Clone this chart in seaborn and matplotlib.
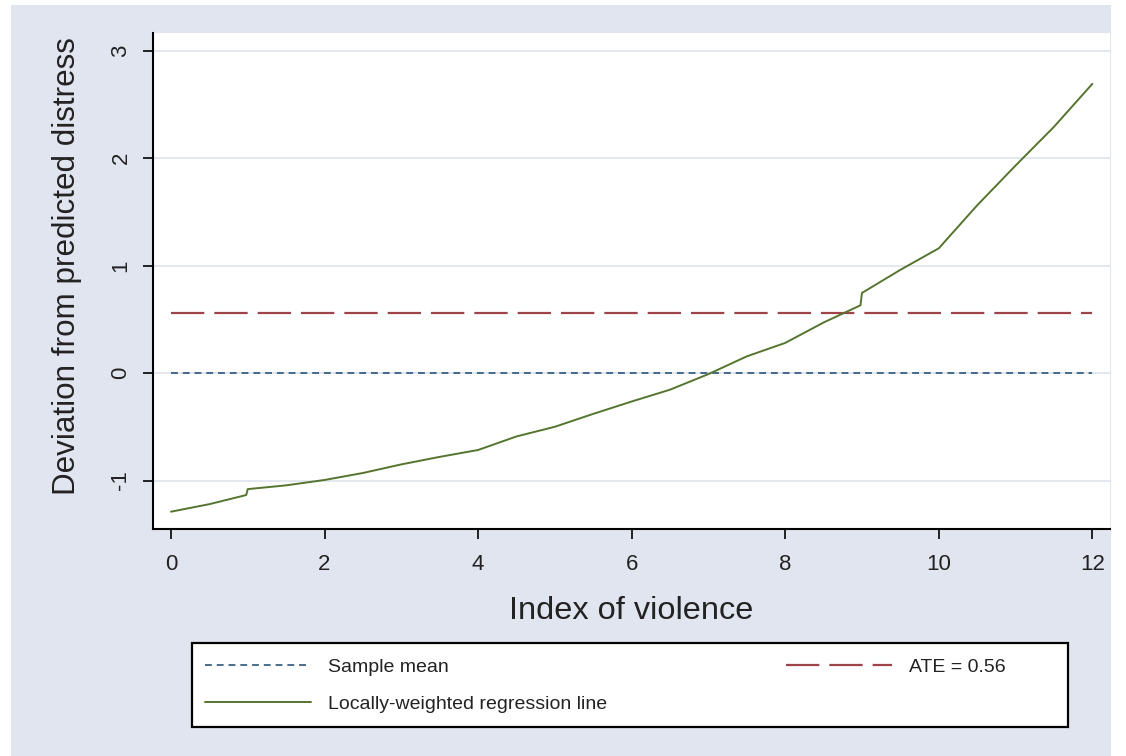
import matplotlib
matplotlib.use("Agg")
import matplotlib.pyplot as plt
from matplotlib.patches import Rectangle
import seaborn as sns
import pandas as pd

# Lowess fit of deviation from predicted distress against the violence index
violence_index = [0.0, 0.5, 0.98, 1.0, 1.5, 2.0, 2.5, 3.0, 3.5, 4.0, 4.5, 5.0, 5.5,
                  6.0, 6.5, 7.0, 7.5, 8.0, 8.5, 8.98, 9.0, 9.5, 10.0, 10.5, 11.0,
                  11.5, 12.0]
lowess_dev = [-1.29, -1.22, -1.135, -1.08, -1.045, -0.995, -0.93, -0.85, -0.78,
              -0.716, -0.59, -0.50, -0.38, -0.265, -0.155, -0.01, 0.155, 0.28,
              0.47, 0.63, 0.745, 0.96, 1.16, 1.56, 1.93, 2.29, 2.69]

# Reference lines
ref_x = [0, 12]
sample_mean = [0.0, 0.0]
ate = [0.56, 0.56]

x_ticks = [0, 2, 4, 6, 8, 10, 12]
y_ticks = [-1, 0, 1, 2, 3]

W, H = 1126, 756
sns.set_theme(style="white")
plt.rcParams["font.family"] = ["Liberation Sans", "DejaVu Sans"]

fig = plt.figure(figsize=(W / 100, H / 100), dpi=100, facecolor="white")
bg = "#E0E5EF"
fig.add_artist(Rectangle((11 / W, 0), (1111 - 11) / W, (H - 5) / H,
                         transform=fig.transFigure, facecolor=bg,
                         edgecolor="none", zorder=-5))

ax = fig.add_axes([153 / W, 1 - 529 / H, (1110 - 153) / W, (529 - 33) / H])
ax.set_facecolor("white")

navy = "#1A476F"
maroon = "#9E4349"
green = "#55752F"

curve = pd.DataFrame({"x": violence_index, "y": lowess_dev})
ref = pd.DataFrame({"x": ref_x, "mean": sample_mean, "ate": ate})

sns.lineplot(data=ref, x="x", y="mean", ax=ax, color=navy, lw=1.1,
             label="Sample mean", zorder=3)
sns.lineplot(data=curve, x="x", y="y", ax=ax, color=green, lw=1.4,
             estimator=None, sort=False, label="Locally-weighted regression line",
             zorder=4)
sns.lineplot(data=ref, x="x", y="ate", ax=ax, color=maroon, lw=1.6,
             label="ATE = 0.56", zorder=3)

lines = ax.get_lines()
lines[0].set_dashes([4.5, 3.2])
lines[2].set_dashes([15, 4.5])

ax.set_xlim(-0.234, 12.23)
ax.set_ylim(-1.451, 3.163)
ax.set_xticks(x_ticks)
ax.set_yticks(y_ticks)
ax.set_xticklabels([str(v) for v in x_ticks])
ax.set_yticklabels([str(v) for v in y_ticks])

ax.yaxis.grid(True, color="#E3E7F0", lw=1.4, zorder=0)
ax.xaxis.grid(False)
for side in ("top", "right"):
    ax.spines[side].set_visible(False)
for side in ("left", "bottom"):
    ax.spines[side].set_color("black")
    ax.spines[side].set_linewidth(1.5)

ax.tick_params(axis="both", which="major", direction="out", length=7.5,
               width=1.2, color="black", labelsize=16, labelcolor="#222222",
               bottom=True, left=True)
ax.tick_params(axis="x", pad=10.5)
ax.tick_params(axis="y", pad=8, labelrotation=90)
for lbl in ax.get_yticklabels():
    lbl.set_verticalalignment("center")

ax.set_xlabel("Index of violence", fontsize=23.4, color="#222222", labelpad=15)
ax.set_ylabel("Deviation from predicted distress", fontsize=22.6,
              color="#222222")
ax.yaxis.set_label_coords(-0.0742, 0.530)

ax.get_legend().remove()

# Legend frame below the plot
fig.add_artist(Rectangle((192 / W, 1 - 727 / H), (1068 - 192) / W, (727 - 643) / H,
                         transform=fig.transFigure, facecolor="white",
                         edgecolor="black", lw=1.6, zorder=1))
handles = [lines[0], lines[1], lines[2]]
labels = ["Sample mean", "Locally-weighted regression line", "ATE = 0.56"]
leg = fig.legend(handles, labels, ncol=2, frameon=False,
                 loc="upper left", bbox_to_anchor=(205 / W, 1 - 658 / H),
                 bbox_transform=fig.transFigure, borderpad=0, borderaxespad=0,
                 handlelength=5.45, handletextpad=0.87, labelspacing=1.0,
                 columnspacing=9.2,
                 prop={"family": ["Liberation Sans"], "size": 14})
for t in leg.get_texts():
    t.set_color("#222222")
leg.set_zorder(6)

fig.savefig("out.png", dpi=100, facecolor="white")
